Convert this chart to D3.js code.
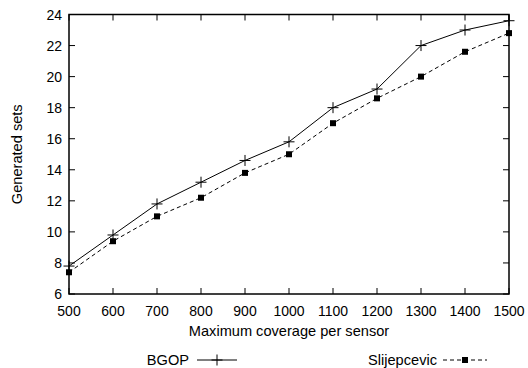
<!DOCTYPE html>
<html><head><meta charset="utf-8">
<script src="https://cdn.jsdelivr.net/npm/d3@7"></script>
<style>body{margin:0;background:#fff}text{font-family:"Liberation Sans",Arial,sans-serif;fill:#000}</style>
</head><body><svg id="c" width="528" height="368"></svg>
<script>
const xValues = [500,600,700,800,900,1000,1100,1200,1300,1400,1500];
const bgop = [7.8,9.8,11.8,13.2,14.6,15.8,18.0,19.2,22.0,23.0,23.6];
const slijepcevic = [7.4,9.4,11.0,12.2,13.8,15.0,17.0,18.6,20.0,21.6,22.8];
const yTicks = [6,8,10,12,14,16,18,20,22,24];
const seriesNames = ["BGOP","Slijepcevic"];

const svg = d3.select("#c");
const L=69, R=509, T=14.5, B=294;
const x = d3.scaleLinear().domain([500,1500]).range([L,R]);
const y = d3.scaleLinear().domain([6,24]).range([B,T]);
const fs = 14, tl = 6;

const g = svg.append("g");
xValues.forEach(v=>{
  g.append("line").attr("x1",x(v)).attr("x2",x(v)).attr("y1",B).attr("y2",B-tl).attr("stroke","#000");
  g.append("line").attr("x1",x(v)).attr("x2",x(v)).attr("y1",T).attr("y2",T+tl).attr("stroke","#000");
  g.append("text").attr("x",x(v)).attr("y",B+22).attr("text-anchor","middle").attr("font-size",fs).text(v);
});
yTicks.forEach(v=>{
  g.append("line").attr("x1",L).attr("x2",L+tl).attr("y1",y(v)).attr("y2",y(v)).attr("stroke","#000");
  g.append("line").attr("x1",R).attr("x2",R-tl).attr("y1",y(v)).attr("y2",y(v)).attr("stroke","#000");
  g.append("text").attr("x",L-7).attr("y",y(v)+5).attr("text-anchor","end").attr("font-size",fs).text(v);
});
svg.append("rect").attr("x",L).attr("y",T).attr("width",R-L).attr("height",B-T)
  .attr("fill","none").attr("stroke","#000").attr("stroke-width",1.5);

const line = d3.line().x((d,i)=>x(xValues[i])).y(d=>y(d));
svg.append("path").datum(bgop).attr("d",line).attr("fill","none").attr("stroke","#000").attr("stroke-width",1);
svg.append("path").datum(slijepcevic).attr("d",line).attr("fill","none").attr("stroke","#000").attr("stroke-width",1).attr("stroke-dasharray","4,3");

function plus(px,py){
  svg.append("path").attr("d",`M${px-5.5},${py}H${px+5.5}M${px},${py-5.5}V${py+5.5}`).attr("stroke","#000").attr("stroke-width",1).attr("fill","none");
}
function sq(px,py){
  svg.append("rect").attr("x",px-3).attr("y",py-3).attr("width",6).attr("height",6).attr("fill","#000");
}
bgop.forEach((d,i)=>plus(x(xValues[i]),y(d)));
slijepcevic.forEach((d,i)=>sq(x(xValues[i]),y(d)));

svg.append("text").attr("x",(L+R)/2).attr("y",336).attr("text-anchor","middle").attr("font-size",14.6).text("Maximum coverage per sensor");
svg.append("text").attr("transform",`translate(22,${(T+B)/2}) rotate(-90)`).attr("text-anchor","middle").attr("font-size",14.6).text("Generated sets");

const ly = 360;
svg.append("text").attr("x",189).attr("y",ly+5).attr("text-anchor","end").attr("font-size",14.6).text(seriesNames[0]);
svg.append("line").attr("x1",197).attr("x2",237).attr("y1",ly).attr("y2",ly).attr("stroke","#000");
plus(217,ly);
svg.append("text").attr("x",437).attr("y",ly+5).attr("text-anchor","end").attr("font-size",14.6).text(seriesNames[1]);
svg.append("line").attr("x1",443).attr("x2",487).attr("y1",ly).attr("y2",ly).attr("stroke","#000").attr("stroke-dasharray","4,3");
sq(465,ly);
</script></body></html>
